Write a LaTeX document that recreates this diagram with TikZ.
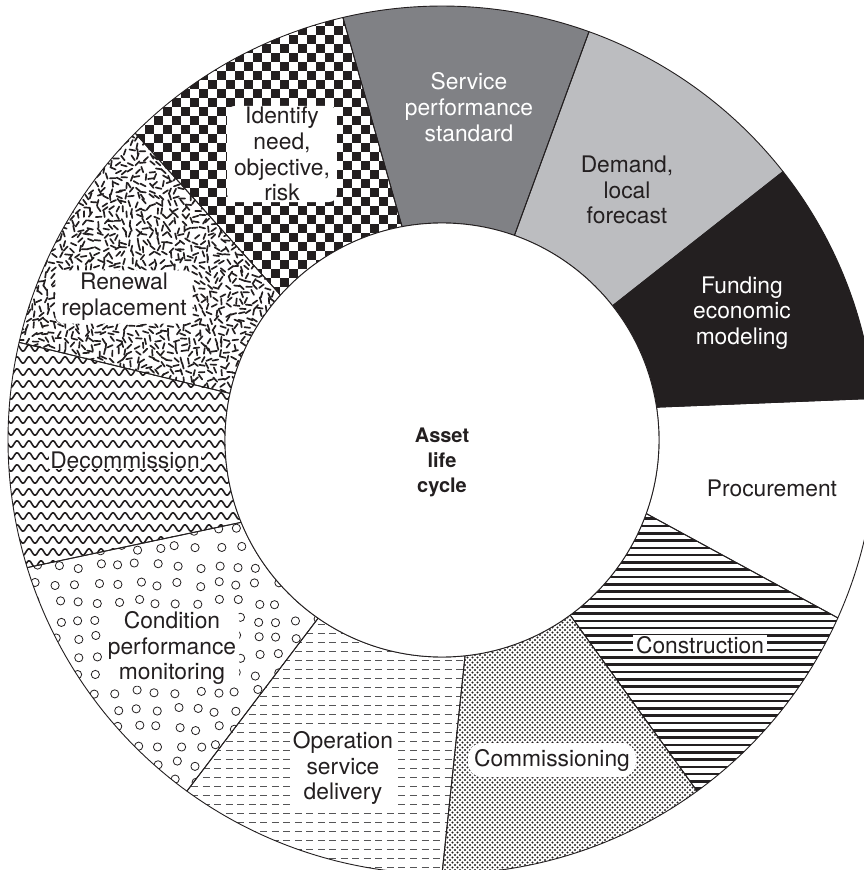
\documentclass[tikz,border=0pt]{standalone}
\usepackage{fontspec}
\setmainfont{TeX Gyre Heros}
\usetikzlibrary{patterns}

\definecolor{ink}{HTML}{231F20}
\definecolor{slate}{HTML}{808185}
\definecolor{mist}{HTML}{BCBDC0}
\definecolor{dashgray}{HTML}{555557}

\pgfdeclarepatternformonly{halftone}{\pgfqpoint{-1.5pt}{-1.5pt}}{\pgfqpoint{3.8pt}{3.8pt}}{\pgfqpoint{5pt}{5pt}}{%
  \pgfpathcircle{\pgfqpoint{0pt}{0pt}}{1.05pt}%
  \pgfpathcircle{\pgfqpoint{2.5pt}{2.5pt}}{1.05pt}%
  \pgfusepath{fill}}

% ring piece: inner start, outer start, inner end, outer end
\newcommand{\ringseg}[4]{(#1:\rin) -- (#2:\rout) arc[start angle=#2, end angle=#4, radius=\rout] -- (#3:\rin) arc[start angle=#3, end angle=#1, radius=\rin] -- cycle}

\begin{document}
\begin{tikzpicture}[x=1pt, y=1pt, line join=round, line cap=round,
    font=\fontsize{22.8}{25.7}\selectfont,
    segline/.style={draw=ink, line width=0.9},
    seglabel/.style={align=center, text=ink, inner sep=1},
    boxlabel/.style={seglabel, fill=white, rounded corners=#1},
    boxlabel/.default=0]
		\pgfmathsetmacro{\rin}{217}
		\pgfmathsetmacro{\rout}{434}
		\pgfmathsetseed{4711}
		\useasboundingbox (-442,-430) rectangle (422,440);
		\clip (-442,-430) rectangle (422,440);
		\fill[white] (-442,-430) rectangle (422,440);
		% solid pieces
		\fill[ink] \ringseg{8.7}{5.5}{38.2}{38.2};
		\fill[mist] \ringseg{38.2}{38.2}{70.5}{70.2};
		\fill[slate] \ringseg{70.5}{70.2}{100.6}{103.2};
		% checkerboard
		\begin{scope}
			\clip \ringseg{100.6}{103.2}{138.1}{135};
			\foreach \i in {-36,...,-3} {
				\foreach \j in {14,...,48} {
					\pgfmathtruncatemacro{\k}{\i+\j}
					\ifodd\k \fill[ink] (9*\i,9*\j) rectangle ++(9,9); \fi
				}
			}
		\end{scope}
		% scattered strokes
		\begin{scope}
			\clip \ringseg{138.1}{135}{167.6}{167};
			\foreach \x in {-428,-421.5,...,-156} {
				\foreach \y in {42,48.5,...,314} {
					\pgfmathsetmacro{\ang}{rnd*360}
					\pgfmathsetmacro{\dx}{rand*2.2}
					\pgfmathsetmacro{\dy}{rand*2.2}
					\draw[ink, line width=1.7] (\x+\dx,\y+\dy) ++(\ang:2.9) -- ++(\ang:-5.8);
				}
			}
		\end{scope}
		% waves
		\begin{scope}
			\clip \ringseg{167.6}{167}{202.3}{197.1};
			\foreach \y in {-136,-124,...,104} {
				\draw[ink, line width=1.6] plot[domain=0:248, samples=250] ({\x-440}, {\y+3.2*sin(\x*30)});
			}
		\end{scope}
		% rings
		\begin{scope}
			\clip \ringseg{202.3}{197.1}{235.2}{234};
			\foreach \x in {-424,-404,...,-116} {
				\foreach \y in {-360,-342,...,-74} {
					\pgfmathsetmacro{\dx}{rand*4}
					\pgfmathsetmacro{\dy}{rand*3}
					\draw[ink, line width=0.8] (\x+\dx,\y+\dy) circle[radius=4.1];
				}
			}
		\end{scope}
		% dashed rows
		\begin{scope}
			\clip \ringseg{235.2}{234}{276.1}{270};
			\foreach \k in {0,...,30} {
				\draw[dashgray, line width=1.0, line cap=butt, dash pattern=on 7 off 4.5] (-262,{-436+9*\k}) -- (30,{-436+9*\k});
			}
		\end{scope}
		% fine dots
		\fill[pattern=halftone, pattern color=ink] \ringseg{276.1}{270}{306.2}{306};
		% horizontal bars
		\begin{scope}
			\clip \ringseg{306.2}{306}{340.2}{335.8};
			\foreach \k in {0,...,40} {
				\draw[ink, line width=2.6, line cap=butt] (120,{-356+7.3*\k}) -- (402,{-356+7.3*\k});
			}
		\end{scope}
		% outlines
		\foreach \a/\b/\c/\d in {8.7/5.5/38.2/38.2, 38.2/38.2/70.5/70.2, 70.5/70.2/100.6/103.2,
			100.6/103.2/138.1/135, 138.1/135/167.6/167, 167.6/167/202.3/197.1,
			202.3/197.1/235.2/234, 235.2/234/276.1/270, 276.1/270/306.2/306,
			306.2/306/340.2/335.8, 340.2/335.8/368.7/365.5} {
			\draw[segline] \ringseg{\a}{\b}{\c}{\d};
		}
		\draw[segline, fill=white] (0,0) circle[radius=\rin];
		% labels
		\node[boxlabel=8, inner xsep=7] (identify) at (-160,286) {Identify\\need,\\objective,\\risk};
		\node[seglabel, text=white] (service) at (27,333) {Service\\performance\\standard};
		\node[seglabel] (demand) at (185,250) {Demand,\\local\\forecast};
		\node[seglabel, text=white] (funding) at (300,127) {Funding\\economic\\modeling};
		\node[seglabel] (procure) at (330,-48) {Procurement};
		\node[boxlabel, inner xsep=3] (construct) at (258,-205) {Construction};
		\node[boxlabel=14, inner xsep=6, inner ysep=6] (commission) at (110,-320) {Commissioning};
		\node[boxlabel, inner xsep=3] (operation) at (-99,-328) {Operation\\service\\delivery};
		\node[boxlabel=6, inner xsep=3] (condition) at (-270,-208) {Condition\\performance\\monitoring};
		\node[boxlabel] (decommission) at (-317,-20) {Decommission};
		\node[boxlabel=8, inner xsep=6, inner ysep=3] (renewal) at (-318,143) {Renewal\\replacement};
		\node[seglabel, font=\fontsize{20}{25}\selectfont\bfseries] (hub) at (0,-22) {Asset\\life\\cycle};
	\end{tikzpicture}
\end{document}
